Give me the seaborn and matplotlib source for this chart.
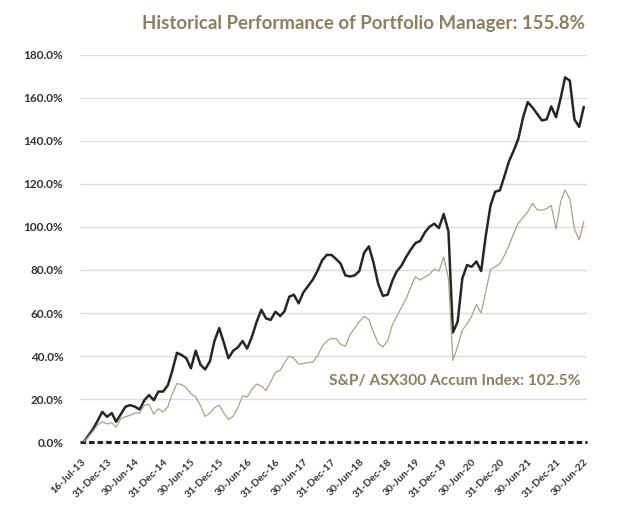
import matplotlib
matplotlib.use("Agg")
import matplotlib.pyplot as plt
import matplotlib.ticker as mticker
import numpy as np
import pandas as pd
import seaborn as sns

# monthly cumulative returns (%), Jul-13 .. Jun-22
portfolio = [
    0, 3, 6, 10, 14.1, 11.8, 13.5, 9.5, 13, 16.5, 17.2, 16.5,
    15.2, 19.5, 21.9, 19.5, 23.5, 23.5, 26.5, 33, 41.5, 40.5, 39, 34.3,
    42.5, 36, 33.8, 37.5, 47, 53, 46, 39, 42.5, 44, 47, 43.5,
    49, 56, 61.5, 57.5, 56.8, 60.6, 58.6, 60.8, 67.6, 68.5, 64.5, 69.5,
    72.5, 75.5, 79.5, 84.5, 87, 87, 85, 83, 77.5, 77, 77.5, 79.5,
    88, 91, 83.5, 73.5, 68, 68.5, 75, 79.3, 82, 86, 89.5, 92.5,
    93.5, 97.5, 100.1, 101.5, 99.5, 106, 98, 51, 56, 76, 82.3, 81.5,
    84, 79.5, 96, 110, 116.4, 117, 124, 130.5, 135.5, 141, 151, 158,
    155.5, 152.5, 149.5, 150, 156, 151, 160, 169.5, 168, 150, 146.5, 155.8,
]
benchmark = [
    0, 2.5, 5, 8, 9.5, 8.5, 9, 7, 11, 11.8, 12.5, 13.5,
    13.5, 17.2, 17.5, 13, 15.5, 14, 16.4, 22.4, 27.2, 26.8, 25.2, 22.5,
    21, 17, 12, 13.5, 16, 17.2, 13.5, 10.5, 12, 16, 21.5, 21,
    24.5, 27, 26, 24, 28, 32.5, 33.3, 37, 40, 39, 36.3, 36.5,
    37, 37.2, 40, 44.5, 47, 48.2, 48, 45.5, 44.5, 50, 53, 56,
    58.5, 57, 51, 46, 44.3, 47, 54.5, 58.5, 62.5, 66.5, 72, 76.9,
    75.3, 76.8, 78, 80.5, 79.5, 86, 76, 38, 44.5, 52, 55, 58.5,
    64, 60, 70, 80.3, 81.5, 83, 87, 91.5, 97, 101.8, 104.5, 107,
    111, 108, 107.8, 108.5, 110, 99, 112, 117.2, 113, 99, 94, 102.5,
]
dates = pd.date_range("2013-07-31", periods=len(portfolio), freq="ME")

tick_dates = pd.to_datetime(
    ["2013-07-16"] + [f"{y}-{md}" for y in range(2013, 2023) for md in ("06-30", "12-31")][1:-1]
)
tick_labels = [d.strftime("%d-%b-%y") for d in tick_dates]

TITLE = "Historical Performance of Portfolio Manager: 155.8%"
BENCH_LABEL = "S&P/ ASX300 Accum Index: 102.5%"
KHAKI = "#8a7f5e"

df = pd.DataFrame({
    "date": list(dates) * 2,
    "value": portfolio + benchmark,
    "series": ["Portfolio"] * len(portfolio) + ["Benchmark"] * len(benchmark),
})

sns.set_style("white")
plt.rcParams["font.family"] = ["Lato", "DejaVu Sans"]

fig = plt.figure(figsize=(6.4, 5.27), dpi=100)
ax = fig.add_axes([0.125, 0.161, 0.792, 0.735])

for y in np.arange(20, 181, 20):
    ax.axhline(y, color="#dcdcdc", lw=1.0, zorder=0)

sns.lineplot(data=df, x="date", y="value", hue="series",
             palette={"Portfolio": "#262626", "Benchmark": "#aaa386"},
             size="series", sizes={"Portfolio": 1.8, "Benchmark": 0.9},
             legend=False, ax=ax, zorder=3)

ax.axhline(0, color="#222222", lw=2.2, ls=(0, (1.8, 1.0)), zorder=2, clip_on=False)

ax.set_ylim(0, 180)
ax.set_xlim(pd.Timestamp("2013-07-08"), pd.Timestamp("2022-07-20"))
ax.yaxis.set_major_locator(mticker.MultipleLocator(20))
ax.yaxis.set_major_formatter(mticker.FuncFormatter(lambda v, p: f"{v:.1f}%"))
ax.tick_params(axis="y", labelsize=8.5, labelcolor="#333333", length=0, pad=12)
for lab in ax.get_yticklabels():
    lab.set_fontweight("bold")

ax.set_xticks(tick_dates)
ax.set_xticklabels(tick_labels, rotation=45, ha="right", rotation_mode="anchor",
                   fontsize=7.5, color="#333333", fontweight="bold")
ax.tick_params(axis="x", length=0, pad=11)

ax.set_xlabel("")
ax.set_ylabel("")
sns.despine(ax=ax, left=True, bottom=True)

fig.text(0.914, 0.955, TITLE, ha="right", va="center", fontsize=13.4,
         fontweight="bold", color=KHAKI)
ax.text(pd.Timestamp("2022-06-10"), 28.5, BENCH_LABEL, ha="right", va="center",
        fontsize=11.2, fontweight="bold", color=KHAKI)

fig.savefig("out.png", dpi=100)
